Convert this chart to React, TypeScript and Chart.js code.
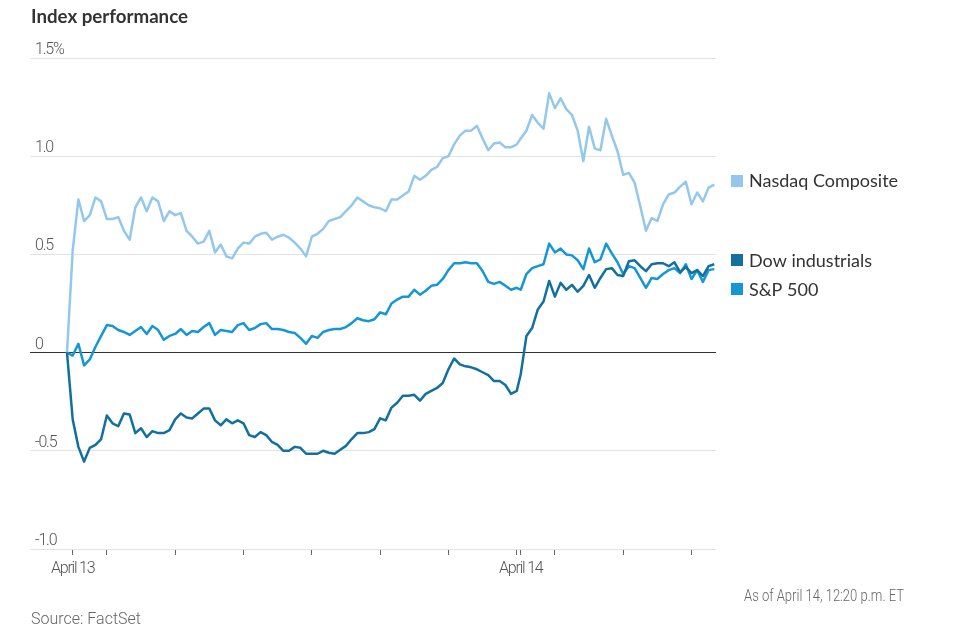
import React, { useEffect, useRef } from 'react';
import { Chart, registerables } from 'chart.js';

Chart.register(...registerables);

// ---- Data (percent change from previous close) ----
const seriesNames = ['Nasdaq Composite', 'Dow industrials', 'S&P 500'];
const seriesColors = ['#93c8ec', '#12709f', '#1697d5'];

// minutes since April 13 9:30 a.m.; April 14 session starts after a small gap
const previousCloseMinute = -5;
const sessionStartMinutes = [0, 393.5];
const sampleStepMinutes = 5;

const nasdaqApr13 = [
  0.52, 0.78, 0.67, 0.70, 0.79, 0.77, 0.68, 0.68, 0.69, 0.62,
  0.575, 0.74, 0.79, 0.72, 0.79, 0.77, 0.67, 0.72, 0.70, 0.71,
  0.62, 0.59, 0.555, 0.565, 0.62, 0.51, 0.55, 0.49, 0.48, 0.53,
  0.56, 0.555, 0.59, 0.605, 0.61, 0.575, 0.59, 0.60, 0.585, 0.56,
  0.53, 0.49, 0.59, 0.605, 0.63, 0.67, 0.68, 0.69, 0.72, 0.75,
  0.79, 0.77, 0.75, 0.74, 0.735, 0.72, 0.78, 0.78, 0.80, 0.82,
  0.90, 0.88, 0.90, 0.93, 0.945, 0.99, 1.00, 1.06, 1.105, 1.13,
  1.13, 1.155, 1.09, 1.03, 1.065, 1.07, 1.045, 1.045, 1.06,
];
const nasdaqApr14 = [
  1.09, 1.13, 1.21, 1.17, 1.14, 1.32, 1.245, 1.295, 1.24, 1.21,
  1.13, 0.975, 1.15, 1.04, 1.03, 1.19, 1.105, 1.025, 0.905, 0.915,
  0.865, 0.745, 0.62, 0.685, 0.67, 0.755, 0.805, 0.815, 0.845, 0.87,
  0.755, 0.815, 0.77, 0.84, 0.855,
];

const dowApr13 = [
  -0.34, -0.48, -0.555, -0.485, -0.47, -0.44, -0.32, -0.36, -0.375, -0.31,
  -0.315, -0.41, -0.385, -0.43, -0.40, -0.41, -0.41, -0.395, -0.34, -0.31,
  -0.33, -0.335, -0.31, -0.285, -0.285, -0.345, -0.37, -0.34, -0.36, -0.345,
  -0.36, -0.42, -0.43, -0.405, -0.42, -0.455, -0.47, -0.50, -0.50, -0.48,
  -0.485, -0.515, -0.515, -0.515, -0.50, -0.51, -0.515, -0.495, -0.475, -0.44,
  -0.41, -0.41, -0.405, -0.39, -0.335, -0.345, -0.28, -0.255, -0.22, -0.22,
  -0.215, -0.245, -0.21, -0.195, -0.18, -0.155, -0.085, -0.03, -0.06, -0.07,
  -0.075, -0.085, -0.10, -0.115, -0.145, -0.145, -0.165, -0.21, -0.195,
];
const dowApr14 = [
  -0.11, 0.085, 0.125, 0.22, 0.26, 0.365, 0.285, 0.355, 0.32, 0.345,
  0.31, 0.34, 0.395, 0.33, 0.38, 0.425, 0.43, 0.395, 0.39, 0.465,
  0.47, 0.44, 0.415, 0.45, 0.455, 0.455, 0.44, 0.46, 0.41, 0.435,
  0.405, 0.42, 0.39, 0.44, 0.45,
];

const spApr13 = [
  -0.015, 0.045, -0.065, -0.035, 0.03, 0.085, 0.14, 0.135, 0.115, 0.105,
  0.09, 0.11, 0.13, 0.095, 0.135, 0.115, 0.065, 0.085, 0.095, 0.12,
  0.09, 0.11, 0.105, 0.13, 0.15, 0.09, 0.115, 0.11, 0.105, 0.14,
  0.15, 0.115, 0.125, 0.145, 0.15, 0.12, 0.12, 0.115, 0.105, 0.10,
  0.075, 0.045, 0.085, 0.075, 0.105, 0.115, 0.12, 0.12, 0.13, 0.15,
  0.175, 0.165, 0.16, 0.17, 0.205, 0.195, 0.25, 0.27, 0.285, 0.285,
  0.32, 0.295, 0.315, 0.34, 0.345, 0.375, 0.42, 0.455, 0.455, 0.46,
  0.455, 0.455, 0.415, 0.36, 0.35, 0.36, 0.34, 0.32, 0.33,
];
const spApr14 = [
  0.32, 0.40, 0.43, 0.44, 0.45, 0.555, 0.51, 0.53, 0.50, 0.495,
  0.47, 0.425, 0.53, 0.46, 0.475, 0.555, 0.505, 0.46, 0.40, 0.44,
  0.43, 0.38, 0.33, 0.38, 0.375, 0.40, 0.42, 0.43, 0.405, 0.45,
  0.375, 0.42, 0.36, 0.42, 0.425,
];

const xTickMinutes = [0, 30, 90, 150, 210, 270, 330, 390, 393.5, 423.5, 483.5, 543.5];
const xTickLabels: Record<string, string> = { '0': 'April 13', '393.5': 'April 14' };
const yTickValues = [-1.0, -0.5, 0, 0.5, 1.0, 1.5];

const titleText = 'Index performance';
const sourceText = 'Source: FactSet';
const asOfText = 'As of April 14, 12:20 p.m. ET';

function buildSeries(day1: number[], day2: number[]) {
  const pts = [{ x: previousCloseMinute, y: 0 }];
  day1.forEach((v, i) => pts.push({ x: sessionStartMinutes[0] + i * sampleStepMinutes, y: v }));
  day2.forEach((v, i) => pts.push({ x: sessionStartMinutes[1] + i * sampleStepMinutes, y: v }));
  return pts;
}

const axisFamily = 'Roboto, "Liberation Sans", sans-serif';

// draw text compressed horizontally to a given width (narrow house font look)
function drawFitted(
  ctx: CanvasRenderingContext2D,
  text: string,
  x: number,
  y: number,
  width: number,
  align: 'left' | 'right'
) {
  const w = ctx.measureText(text).width || 1;
  const s = width / w;
  ctx.save();
  ctx.translate(align === 'right' ? x - width : x, y);
  ctx.scale(s, 1);
  ctx.textAlign = 'left';
  ctx.fillText(text, 0, 0);
  ctx.restore();
}

const condensePlugin = {
  id: 'condenseTicks',
  beforeDraw(chart: any) {
    (chart.ctx as any).letterSpacing = '-1.2px';
  },
};

const textPlugin = {
  id: 'wsjText',
  afterDraw(chart: any) {
    const ctx = chart.ctx as CanvasRenderingContext2D;
    (ctx as any).letterSpacing = '0px';
    ctx.save();
    ctx.textBaseline = 'alphabetic';
    ctx.fillStyle = '#333333';
    ctx.font = 'bold 18px Lato, sans-serif';
    drawFitted(ctx, titleText, 31, 23, 157, 'left');

    ctx.fillStyle = '#666666';
    ctx.font = `300 17px ${axisFamily}`;
    drawFitted(ctx, sourceText, 31, 624, 110, 'left');
    ctx.font = `300 16px ${axisFamily}`;
    drawFitted(ctx, asOfText, 904, 601, 160, 'right');

    // right-side legend aligned to last values
    const yScale = chart.scales.y;
    const items = chart.data.datasets.map((ds: any) => {
      const last = ds.data[ds.data.length - 1];
      return { label: ds.label, color: ds.borderColor, y: yScale.getPixelForValue(last.y) - 4 };
    });
    items.sort((a: any, b: any) => a.y - b.y);
    for (let k = 1; k < items.length; k++) {
      if (items[k].y < items[k - 1].y + 29) items[k].y = items[k - 1].y + 29;
    }
    ctx.textAlign = 'left';
    ctx.textBaseline = 'middle';
    ctx.font = '18px Lato, sans-serif';
    items.forEach((it: any) => {
      ctx.fillStyle = it.color;
      ctx.fillRect(731, Math.round(it.y) - 6, 12, 12);
      ctx.fillStyle = '#333333';
      ctx.fillText(it.label, 749, it.y + 1);
    });
    ctx.restore();
  },
};

export default function App() {
  const canvasRef = useRef<HTMLCanvasElement | null>(null);

  useEffect(() => {
    document.body.style.margin = '0';
    const canvas = canvasRef.current;
    if (!canvas) return;
    Chart.defaults.font.family = axisFamily;

    const chart = new Chart(canvas, {
      type: 'line',
      data: {
        datasets: [
          { label: seriesNames[1], data: buildSeries(dowApr13, dowApr14), borderColor: seriesColors[1] },
          { label: seriesNames[2], data: buildSeries(spApr13, spApr14), borderColor: seriesColors[2] },
          { label: seriesNames[0], data: buildSeries(nasdaqApr13, nasdaqApr14), borderColor: seriesColors[0] },
        ].map((d) => ({
          ...d,
          borderWidth: 2.5,
          pointRadius: 0,
          pointHoverRadius: 0,
          tension: 0,
          fill: false,
          borderJoinStyle: 'round' as const,
        })),
      },
      options: {
        responsive: false,
        animation: false,
        events: [],
        layout: { padding: { left: 30, right: 256, top: 58, bottom: 49 } },
        plugins: { legend: { display: false }, tooltip: { enabled: false }, title: { display: false } },
        scales: {
          x: {
            type: 'linear',
            min: -37.5,
            max: 565,
            border: { display: false },
            grid: {
              drawOnChartArea: false,
              drawTicks: true,
              tickLength: 6,
              color: '#666666',
              lineWidth: 1,
            },
            afterBuildTicks: (scale: any) => {
              scale.ticks = xTickMinutes.map((v) => ({ value: v }));
            },
            afterFit: (scale: any) => {
              scale.height = 40;
            },
            ticks: {
              autoSkip: false,
              maxRotation: 0,
              padding: 4,
              color: '#555555',
              font: { size: 16, family: axisFamily, weight: '300' },
              callback: (v: any) => xTickLabels[String(v)] ?? '',
            },
          },
          y: {
            min: -1.0,
            max: 1.5,
            border: { display: false },
            grid: {
              drawTicks: false,
              lineWidth: 1,
              color: (c: any) => (c.tick && c.tick.value === 0 ? '#333333' : '#e3e3e3'),
            },
            afterBuildTicks: (scale: any) => {
              scale.ticks = yTickValues.map((v) => ({ value: v }));
            },
            afterFit: (scale: any) => {
              scale.width = 0;
            },
            ticks: {
              mirror: true,
              padding: 5,
              labelOffset: -8,
              color: '#555555',
              font: { size: 16, family: axisFamily, weight: '300' },
              callback: (v: any) => (v === 1.5 ? '1.5%' : v === 0 ? '0' : Number(v).toFixed(1)),
            },
          },
        },
      },
      plugins: [condensePlugin, textPlugin],
    });
    return () => chart.destroy();
  }, []);

  return (
    <div style={{ position: 'fixed', left: 0, top: 0, width: 972, height: 638, background: '#ffffff' }}>
      <canvas ref={canvasRef} width={972} height={638} style={{ display: 'block' }} />
    </div>
  );
}
